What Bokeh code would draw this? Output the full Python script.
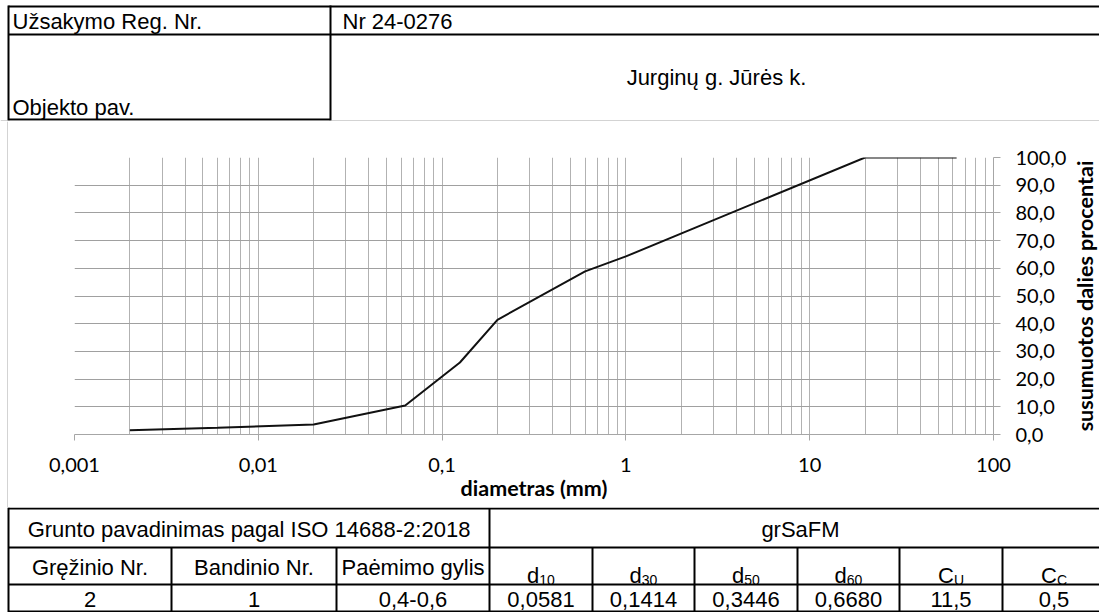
import math
from bokeh.plotting import figure
from bokeh.layouts import column, row
from bokeh.models import Range1d, FixedTicker, ColumnDataSource
from bokeh.core.properties import value
from bokeh.embed import file_html
from bokeh.resources import INLINE

# ---------------- data ----------------
order_label = "Užsakymo Reg. Nr."
order_number = "Nr 24-0276"
object_label = "Objekto pav."
object_name = "Jurginų g. Jūrės k."

sieve_mm = [0.002, 0.006, 0.02, 0.063, 0.125, 0.2, 0.6, 1.0, 20.0, 63.0]
passing_pct = [1.5, 2.4, 3.6, 10.5, 26.0, 41.4, 58.9, 64.3, 100.0, 100.0]

x_ticks = [0.001, 0.01, 0.1, 1, 10, 100]
x_tick_labels = ["0,001", "0,01", "0,1", "1", "10", "100"]
y_ticks = [0, 10, 20, 30, 40, 50, 60, 70, 80, 90, 100]
y_tick_labels = ["0,0", "10,0", "20,0", "30,0", "40,0", "50,0",
                 "60,0", "70,0", "80,0", "90,0", "100,0"]
x_title = "diametras (mm)"
y_title = "susumuotos dalies procentai"

soil_label = "Grunto pavadinimas pagal ISO 14688-2:2018"
soil_name = "grSaFM"
sample_headers = ["Gręžinio Nr.", "Bandinio Nr.", "Paėmimo gylis"]
param_symbols = ["d", "d", "d", "d", "C", "C"]
param_subscripts = ["10", "30", "50", "60", "U", "C"]
row_values = ["2", "1", "0,4-0,6", "0,0581", "0,1414", "0,3446", "0,6680", "11,5", "0,5"]

# ---------------- layout constants ----------------
W = 1099
TOP_H, MID_H, BOT_H = 121, 386, 105
STRIP_W = 8
TITLE_W = 30
TABLE_FONT = value("Liberation Sans")
CHART_FONT = "Lato"
BLACK = "#000000"
FRAME_GRAY = "#a6a6a6"
TITLE_SIZE = "21.5px"


def plain_fig(w, h, flip=True):
    yr = Range1d(h, 0) if flip else Range1d(0, h)
    p = figure(width=w, height=h, x_range=Range1d(0, w), y_range=yr,
               toolbar_location=None, output_backend="svg", min_border=0,
               x_axis_location=None, y_axis_location=None, frame_align=False)
    p.grid.visible = False
    p.outline_line_color = None
    p.background_fill_color = "white"
    p.border_fill_color = "white"
    return p


# ---------------- top table ----------------
top = plain_fig(W, TOP_H)
COL_SPLIT = 330
top.segment(x0=[8, 8, 8], y0=[6, 34, 119], x1=[W, W, COL_SPLIT], y1=[6, 34, 119],
            line_color=BLACK, line_width=2)
top.segment(x0=[8, COL_SPLIT], y0=[5, 5], x1=[8, COL_SPLIT], y1=[120, 120],
            line_color=BLACK, line_width=2)
top.segment(x0=[0], y0=[120.5], x1=[W], y1=[120.5], line_color=FRAME_GRAY, line_width=1)
top_src = ColumnDataSource(dict(x=[12, 342, 12], y=[21, 21, 107],
                                t=[order_label, order_number, object_label]))
top.text(x="x", y="y", text="t", source=top_src, text_font=TABLE_FONT,
         text_font_size="22px", text_baseline="middle", text_align="left", text_color=BLACK)
top.text(x=[716], y=[77], text=[object_name], text_font=TABLE_FONT,
         text_font_size="22px", text_baseline="middle", text_align="center", text_color=BLACK)

# ---------------- chart ----------------
strip = plain_fig(STRIP_W, MID_H)
strip.segment(x0=[7.5], y0=[0], x1=[7.5], y1=[MID_H], line_color=FRAME_GRAY, line_width=1)

MID_W = W - STRIP_W - TITLE_W
mid = figure(width=MID_W, height=MID_H, x_axis_type="log",
             x_range=Range1d(0.001, 100), y_range=Range1d(0, 100),
             y_axis_location="right", toolbar_location=None, output_backend="svg",
             min_border_left=66, min_border_right=MID_W - 66 - 924, min_border_top=36,
             min_border_bottom=MID_H - 36 - 277, frame_align=False)
mid.outline_line_color = None
mid.background_fill_color = "white"
mid.border_fill_color = "white"

minor_x = [k * 10.0 ** e for e in range(-3, 2) for k in range(2, 10)]
mid.xgrid.ticker = FixedTicker(ticks=x_ticks, minor_ticks=minor_x)
mid.xgrid.grid_line_color = "#b2b2b2"
mid.xgrid.minor_grid_line_color = "#b2b2b2"
mid.ygrid.ticker = FixedTicker(ticks=y_ticks)
mid.ygrid.grid_line_color = "#a0a0a0"

xa = mid.xaxis[0]
xa.ticker = FixedTicker(ticks=x_ticks)
xa.major_label_overrides = {t: l for t, l in zip(x_ticks, x_tick_labels)}
xa.axis_line_color = FRAME_GRAY
xa.major_tick_line_color = FRAME_GRAY
xa.minor_tick_line_color = None
xa.major_tick_out = 6
xa.major_tick_in = 0
xa.major_label_standoff = 17
xa.major_label_text_font = CHART_FONT
xa.major_label_text_font_size = "20px"
xa.major_label_text_color = BLACK
xa.axis_label = x_title
xa.axis_label_standoff = 0
xa.axis_label_text_font = CHART_FONT
xa.axis_label_text_font_style = "bold"
xa.axis_label_text_font_size = TITLE_SIZE
xa.axis_label_text_color = BLACK

ya = mid.yaxis[0]
ya.ticker = FixedTicker(ticks=y_ticks)
ya.major_label_overrides = {t: l for t, l in zip(y_ticks, y_tick_labels)}
ya.axis_line_color = FRAME_GRAY
ya.major_tick_line_color = FRAME_GRAY
ya.minor_tick_line_color = None
ya.major_tick_out = 7
ya.major_tick_in = 0
ya.major_label_standoff = 15
ya.major_label_text_font = CHART_FONT
ya.major_label_text_font_size = "20px"
ya.major_label_text_color = BLACK

mid.line(sieve_mm, passing_pct, line_color="#111111", line_width=2)

# right-hand rotated title (reads bottom to top)
ttl = plain_fig(TITLE_W, MID_H, flip=False)
ttl.text(x=[15], y=[MID_H - (295.5 - TOP_H)], text=[y_title], angle=math.pi / 2,
         text_align="center", text_baseline="middle", text_font=value(CHART_FONT),
         text_font_style=value("bold"), text_font_size=TITLE_SIZE, text_color=BLACK)

# ---------------- bottom table ----------------
bot = plain_fig(W, BOT_H)
edges = [8, 171, 336, 489, 592, 694, 797, 899, 1002, 1105]
row_lines = [1, 40, 77, 104]
bot.segment(x0=[8] * 4, y0=row_lines, x1=[W] * 4, y1=row_lines, line_color=BLACK, line_width=2)
bot.segment(x0=[8], y0=[0], x1=[8], y1=[105], line_color=BLACK, line_width=2)
inner = edges[1:-1]
bot.segment(x0=inner, y0=[row_lines[1]] * len(inner), x1=inner, y1=[row_lines[3]] * len(inner),
            line_color=BLACK, line_width=2)
bot.segment(x0=[edges[3]], y0=[row_lines[0]], x1=[edges[3]], y1=[row_lines[1]],
            line_color=BLACK, line_width=2)

centers = [(a + b) / 2 for a, b in zip(edges[:-1], edges[1:])]
r0 = (row_lines[0] + row_lines[1]) / 2 + 1
r1 = (row_lines[1] + row_lines[2]) / 2 + 1
r2 = (row_lines[2] + row_lines[3]) / 2 + 1

bot.text(x=[(edges[0] + edges[3]) / 2, 800], y=[r0, r0], text=[soil_label, soil_name],
         text_font=TABLE_FONT, text_font_size="22px", text_baseline="middle",
         text_align="center", text_color=BLACK)
bot.text(x=centers[:3], y=[r1] * 3, text=sample_headers, text_font=TABLE_FONT,
         text_font_size="22px", text_baseline="middle", text_align="center", text_color=BLACK)

# symbol + subscript, centred together in each cell
cw = {"d": 0.556, "C": 0.722, "U": 0.722, "1": 0.556, "0": 0.556, "3": 0.556,
      "5": 0.556, "6": 0.556}
sym_x = []
for c, s, sub in zip(centers[3:], param_symbols, param_subscripts):
    w_main = sum(cw[ch] for ch in s) * 22
    w_sub = sum(cw[ch] for ch in sub) * 14
    sym_x.append(c + (w_main - w_sub) / 2)
n = len(param_symbols)
bot.text(x=sym_x, y=[r1 + 8] * n, text=param_symbols, text_font=TABLE_FONT,
         text_font_size="22px", text_baseline="alphabetic", text_align="right", text_color=BLACK)
bot.text(x=sym_x, y=[r1 + 13] * n, text=param_subscripts, text_font=TABLE_FONT,
         text_font_size="14px", text_baseline="alphabetic", text_align="left", text_color=BLACK)

bot.text(x=centers, y=[r2] * len(row_values), text=row_values, text_font=TABLE_FONT,
         text_font_size="22px", text_baseline="middle", text_align="center", text_color=BLACK)

layout = column(top, row(strip, mid, ttl, spacing=0), bot, spacing=0)
open("out.html", "w").write(file_html(layout, INLINE))
